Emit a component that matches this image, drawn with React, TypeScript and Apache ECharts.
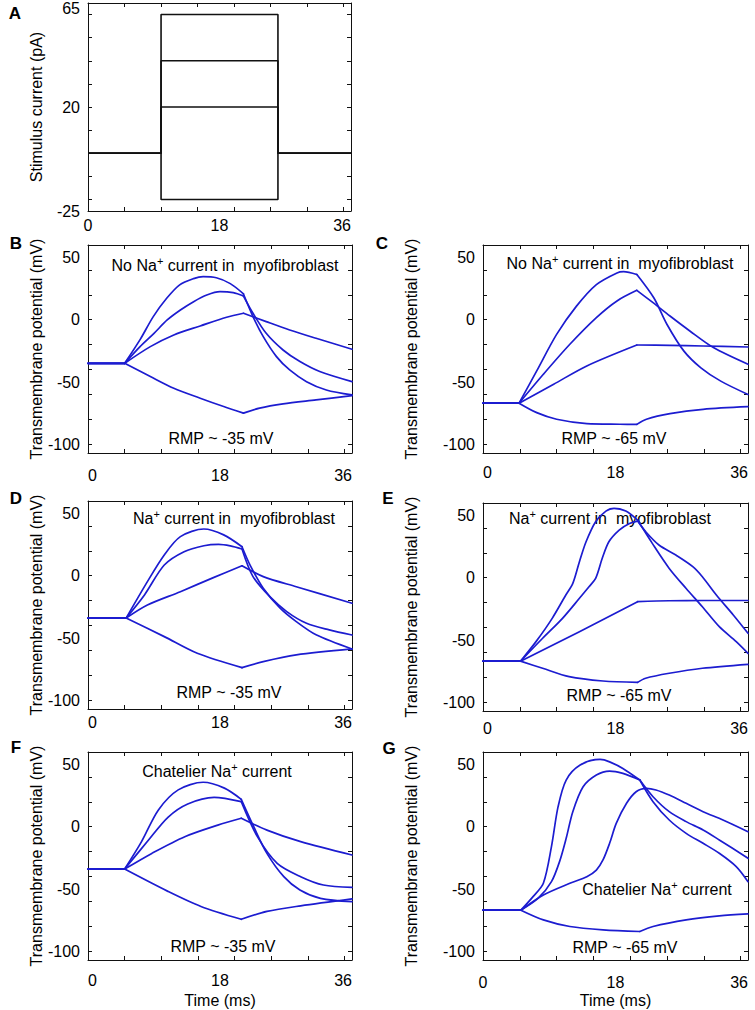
import React, { useEffect, useRef } from 'react';
import * as echarts from 'echarts';

const FONT = '"Liberation Sans", Arial, Helvetica, sans-serif';
const BLUE = '#1c1cd0';

// ---------- Panel A: stimulus protocol ----------
const stimTimeA = [0, 10, 10, 26, 26, 36];
const stimCurrentA = [
  [0, 0, -20, -20, 0, 0],
  [0, 0, 20, 20, 0, 0],
  [0, 0, 40, 40, 0, 0],
  [0, 0, 60, 60, 0, 0],
];
const yLabelsA = [-25, 20, 65];
const yTicksA = [-20, -10, 0, 10, 20, 30, 40, 50, 60];

// ---------- shared axes ----------
const xLabels = [0, 18, 36];
const xTicks = [5, 10, 15, 20, 25, 30, 35];
const yLabelsV = [-100, -50, 0, 50];
const yTicksV = [-100, -80, -60, -40, -20, 0, 20, 40];

// stimulus on / off times (ms) in panels B-G
const stimB = [5, 21.2];
const stimC = [4.9, 20.9];
const stimD = [5.2, 21];
const stimE = [5.1, 21];
const stimF = [5, 20.9];
const stimG = [5.15, 21.3];

// ---------- Panel B: no Na+ current, RMP -35 ----------
const traceB1 = [[0, -35], [5, -35], [7.1, -16], [8.9, 2.5], [10.7, 17], [12.5, 28], [14.4, 33], [15.7, 34.6], [17.5, 33.7], [19.4, 29], [21.2, 20.7], [22.5, 2.5], [23.9, -13.6], [25.7, -29.6], [27.5, -40.3], [29.8, -49.7], [32.5, -56.4], [36, -60.4]];
const traceB2 = [[0, -35], [5, -35], [7.1, -21.6], [9, -10.9], [10.8, -0.2], [12.6, 7.8], [14.4, 14.5], [16.2, 19.8], [18, 22.5], [19.8, 21.7], [21.2, 19], [22.5, 5.2], [24.3, -10.9], [26.6, -24.3], [28.9, -33.6], [31.6, -41.6], [36, -49.7]];
const traceB3 = [[0, -35], [5, -35], [8.5, -21.6], [11.7, -12.2], [15.3, -5], [18.9, 2], [21.2, 5.2], [24.3, -1.5], [27.5, -8.2], [31.1, -14.9], [36, -23.7]];
const traceB4 = [[0, -35], [5, -35], [8.5, -45.6], [11.7, -55], [15.3, -63], [18.5, -69.7], [21.2, -75], [23.4, -71], [26.6, -67.6], [31.1, -64.4], [36, -60.9]];

// ---------- Panel C: no Na+ current, RMP -65 ----------
const traceC1 = [[0, -67], [4.9, -67], [7.3, -41.1], [10, -11.8], [12.7, 10.9], [15.4, 28.2], [18.2, 37.6], [19.1, 38.6], [20.9, 36.3], [23.2, 17.6], [25, -3.8], [27.3, -25.2], [29.6, -38.6], [32.3, -49.3], [36, -60]];
const traceC2 = [[0, -67], [4.9, -67], [8.2, -43.8], [11.8, -19.7], [15.4, 1.7], [18.2, 15.1], [20.9, 23.6], [23.1, 13.7], [25.4, 3], [28.1, -9], [31.3, -22.3], [36, -35.7]];
const traceC3 = [[0, -67], [4.9, -67], [9.6, -51.8], [14.1, -37.1], [20.9, -20.3], [25.4, -20.6], [29.9, -21.1], [36, -21.9]];
const traceC4 = [[0, -67], [4.9, -67], [7.3, -74.6], [10, -79.9], [14.1, -83.4], [18.6, -83.9], [20.9, -84], [22.2, -79.9], [25.4, -75.4], [29.9, -71.9], [36, -69.8]];

// ---------- Panel D: Na+ current, RMP -35 ----------
const traceD1 = [[0, -34], [5.2, -34], [8.1, -4.7], [10.4, 16.7], [12.6, 31.4], [15.8, 37.5], [18.5, 32.8], [21, 23.3], [22.1, 8.6], [23.9, -10], [26.2, -26], [28.4, -36.8], [31.1, -47.4], [36, -58.8]];
const traceD2 = [[0, -34], [5.2, -34], [7.7, -15.4], [10.4, 8.6], [13.1, 19.3], [15.8, 24.1], [17.8, 25.2], [19.4, 24], [21, 21.5], [22.5, -0.7], [24.8, -16.8], [27.1, -28.8], [29.8, -38.2], [32.9, -43.5], [36, -47.6]];
const traceD3 = [[0, -34], [5.2, -34], [8.1, -23.5], [12.6, -12.8], [17.1, -1.5], [21, 8], [23.9, -0.7], [28.4, -8.8], [36, -22.1]];
const traceD4 = [[0, -34], [5.2, -34], [10.4, -48.9], [14.9, -62.3], [21, -73.8], [23.9, -69], [28.4, -63.6], [36, -58.8]];

// ---------- Panel E: Na+ current, RMP -65 ----------
const traceE1 = [[0, -67], [5.1, -67], [7.2, -51.3], [9.4, -32.6], [11.25, -13.9], [12.2, -4.5], [13.1, 12.9], [14, 28.9], [15.3, 45], [16.7, 53.5], [17.8, 55.7], [19.4, 53.5], [21, 46.3], [23, 27.6], [25.3, 7.5], [27.6, -8.6], [29.8, -23.3], [32.1, -39.3], [34.4, -51.3], [36, -60.7]];
const traceE2 = [[0, -67], [5.1, -67], [8.1, -48.6], [10.8, -32.6], [13.1, -16.5], [14.4, -7.2], [15.3, -0.5], [16.2, 15.6], [17.1, 28.9], [18.5, 38.3], [19.9, 43.6], [21, 45.5], [22.1, 37], [23.9, 26.3], [26.2, 18.2], [28.5, 8.9], [29.8, 0.8], [31.7, -13.9], [34, -29.9], [36, -44.6]];
const traceE3 = [[0, -67], [5.1, -67], [13.1, -43.3], [21, -19.2], [25.3, -18.5], [30, -18.3], [36, -18.3]];
const traceE4 = [[0, -67], [5.1, -67], [8.1, -72.7], [11.7, -79.4], [16.3, -82.9], [21, -84], [22.1, -80.7], [25.3, -76.7], [29.8, -72.7], [36, -69.5]];

// ---------- Panel F: Chatelier Na+ current, RMP -35 ----------
const traceF1 = [[0, -34], [5, -34], [7.3, -12], [9.6, 13.5], [12.3, 29.6], [15.7, 35.7], [18.6, 31], [20.9, 22], [22.6, 0], [24.4, -21.4], [26.7, -40.1], [28.9, -50.8], [31.7, -57.5], [36, -60.2]];
const traceF2 = [[0, -34], [5, -34], [8.2, -11.1], [10.9, 7.6], [13.6, 18.3], [17.2, 23.6], [20.9, 20.1], [23.1, -8], [25.8, -29.4], [29, -40.1], [32.1, -46.8], [36, -48.7]];
const traceF3 = [[0, -34], [5, -34], [8.7, -21.4], [13.2, -8], [17.7, 1.3], [20.9, 6.8], [24.4, -2.7], [29, -12], [36, -22.7]];
const traceF4 = [[0, -34], [5, -34], [10.9, -51.9], [15.4, -64], [20.9, -74.3], [24.4, -68], [29, -63.5], [36, -57.9]];

// ---------- Panel G: Chatelier Na+ current, RMP -65 ----------
const traceG1 = [[0, -67], [5.15, -67], [6.8, -56.1], [8.2, -45.4], [9.3, -16], [10.2, 16.1], [11.3, 37.5], [13.2, 49.5], [15.9, 54], [17.2, 52.1], [19, 46.8], [21.3, 37.5], [23.1, 20.1], [25.3, 5.4], [27.6, -5.3], [29.9, -13.3], [32.1, -21.3], [34.4, -32], [36, -44.1]];
const traceG2 = [[0, -67], [5.15, -67], [7.5, -57.4], [9.3, -44.1], [10.4, -28], [11.3, -9.3], [12.2, 12.1], [13.6, 32.1], [15.4, 41.5], [17.2, 44.7], [19, 42.8], [21.3, 37.5], [23.1, 24.1], [25.3, 12.1], [27.6, 4.1], [29.9, -2.6], [32.1, -10.6], [36, -25.3]];
const traceG3 = [[0, -67], [5.15, -67], [8.2, -54.8], [11.8, -45.4], [14.1, -40.1], [15.4, -34.8], [16.3, -26.7], [17.2, -13.3], [18.1, 2.7], [19.5, 18.8], [20.8, 28.1], [22.2, 30.8], [23.5, 29.5], [25.3, 25.4], [27.6, 18.8], [29.9, 12.1], [32.6, 5.4], [36, -4]];
const traceG4 = [[0, -67], [5.15, -67], [8.2, -74.8], [11.8, -80.1], [16.3, -82.8], [21.3, -84.1], [23.1, -80.1], [27.6, -74.8], [32.1, -71.6], [36, -70]];

const titleNoNa = '{n|No Na}{s|+}{n| current in  myofibroblast}';
const titleNa = '{n|Na}{s|+}{n| current in  myofibroblast}';
const titleCh = '{n|Chatelier Na}{s|+}{n| current}';

type Panel = {
  letter: string;
  box: { left: number; top: number; width: number; height: number };
  traces?: number[][][];
  stim?: number[];
  labelMargin: number;
  alignMin: string;
  nameGap: number;
  title?: string;
  titlePos?: [number, number];
  rmp?: string;
  rmpPos?: [number, number];
  letterPos: [number, number];
  xName?: string;
};

const panels: Panel[] = [
  { letter: 'A', box: { left: 88, top: 3, width: 263, height: 208 }, labelMargin: 6, alignMin: 'center', nameGap: 44, letterPos: [15, 13] },
  { letter: 'B', box: { left: 88, top: 245, width: 264, height: 208 }, traces: [traceB1, traceB2, traceB3, traceB4], stim: stimB, labelMargin: 14, alignMin: 'left', nameGap: 44, title: titleNoNa, titlePos: [225, 264], rmp: 'RMP ~ -35 mV', rmpPos: [221, 438], letterPos: [16, 243] },
  { letter: 'C', box: { left: 483, top: 245, width: 265, height: 208 }, traces: [traceC1, traceC2, traceC3, traceC4], stim: stimC, labelMargin: 11, alignMin: 'left', nameGap: 64, title: titleNoNa, titlePos: [620, 262], rmp: 'RMP ~ -65 mV', rmpPos: [614, 438], letterPos: [382, 243] },
  { letter: 'D', box: { left: 88, top: 501, width: 264, height: 208 }, traces: [traceD1, traceD2, traceD3, traceD4], stim: stimD, labelMargin: 5, alignMin: 'left', nameGap: 44, title: titleNa, titlePos: [234, 517], rmp: 'RMP ~ -35 mV', rmpPos: [229, 692], letterPos: [16, 498] },
  { letter: 'E', box: { left: 483, top: 503, width: 265, height: 208 }, traces: [traceE1, traceE2, traceE3, traceE4], stim: stimE, labelMargin: 9, alignMin: 'left', nameGap: 64, title: titleNa, titlePos: [610, 517], rmp: 'RMP ~ -65 mV', rmpPos: [619, 695], letterPos: [388, 498] },
  { letter: 'F', box: { left: 88, top: 752, width: 264, height: 208 }, traces: [traceF1, traceF2, traceF3, traceF4], stim: stimF, labelMargin: 12, alignMin: 'left', nameGap: 44, title: titleCh, titlePos: [217, 770], rmp: 'RMP ~ -35 mV', rmpPos: [223, 946], letterPos: [16, 747], xName: 'Time (ms)' },
  { letter: 'G', box: { left: 483, top: 752, width: 265, height: 208 }, traces: [traceG1, traceG2, traceG3, traceG4], stim: stimG, labelMargin: 14, alignMin: 'center', nameGap: 64, title: titleCh, titlePos: [657, 888], rmp: 'RMP ~ -65 mV', rmpPos: [625, 947], letterPos: [389, 748], xName: 'Time (ms)' },
];

// split a trace at the stimulus on/off samples so that those corners stay sharp
function splitAt(trace: number[][], times: number[]) {
  const parts: number[][][] = [];
  let cur: number[][] = [];
  trace.forEach((pt, k) => {
    cur.push(pt);
    if (k > 0 && k < trace.length - 1 && times.includes(pt[0])) {
      parts.push(cur);
      cur = [pt];
    }
  });
  if (cur.length > 1) parts.push(cur);
  return parts;
}

function buildOption() {
  const grid: any[] = [];
  const xAxis: any[] = [];
  const yAxis: any[] = [];
  const series: any[] = [];
  const graphic: any[] = [];
  const axisLine = { show: true, onZero: false, lineStyle: { color: '#111', width: 1 } };
  const tickStyle = { color: '#111', width: 1 };
  const labelStyle = { color: '#000', fontSize: 16, fontFamily: FONT };

  panels.forEach((p, i) => {
    const isA = p.letter === 'A';
    grid.push({ ...p.box, show: false, containLabel: false, outerBoundsMode: 'none' });
    const yMin = isA ? -25 : -107;
    const yMax = isA ? 65 : 60;
    const yTicks = isA ? yTicksA : yTicksV;
    const yLabels = isA ? yLabelsA : yLabelsV;
    xAxis.push({
      gridIndex: i, type: 'value', min: 0, max: 36, position: 'bottom',
      axisLine, splitLine: { show: false },
      axisTick: { show: true, inside: true, length: 4, customValues: xTicks, lineStyle: tickStyle },
      axisLabel: { ...labelStyle, show: true, customValues: xLabels, margin: p.labelMargin, alignMinLabel: p.alignMin, alignMaxLabel: 'right' },
      name: p.xName || '', nameLocation: 'middle', nameGap: 32,
      nameTextStyle: { ...labelStyle, fontSize: 16 },
    });
    xAxis.push({
      gridIndex: i, type: 'value', min: 0, max: 36, position: 'top',
      axisLine, splitLine: { show: false },
      axisTick: { show: true, inside: true, length: 4, customValues: xTicks, lineStyle: tickStyle },
      axisLabel: { show: false },
    });
    yAxis.push({
      gridIndex: i, type: 'value', min: yMin, max: yMax, position: 'left',
      axisLine, splitLine: { show: false },
      axisTick: { show: true, inside: true, length: 4, customValues: yTicks, lineStyle: tickStyle },
      axisLabel: {
        ...labelStyle, show: true, customValues: yLabels, margin: 8,
        formatter: (v: number) => (isA && v === yMax ? '{top|' + v + '}' : String(v)),
        rich: { top: { ...labelStyle, padding: [11, 0, 0, 0] } },
      },
      name: isA ? 'Stimulus current (pA)' : 'Transmembrane potential (mV)',
      nameLocation: 'middle', nameGap: p.nameGap,
      nameTextStyle: { ...labelStyle, fontSize: 16 },
    });
    yAxis.push({
      gridIndex: i, type: 'value', min: yMin, max: yMax, position: 'right',
      axisLine, splitLine: { show: false },
      axisTick: { show: true, inside: true, length: 4, customValues: yTicks, lineStyle: tickStyle },
      axisLabel: { show: false },
    });

    if (isA) {
      stimCurrentA.forEach((levels) => {
        series.push({
          type: 'line', xAxisIndex: 2 * i, yAxisIndex: 2 * i,
          data: stimTimeA.map((t, k) => [t, levels[k]]),
          showSymbol: false, symbol: 'none', silent: true,
          lineStyle: { color: '#111', width: 1.6 },
        });
      });
    } else {
      (p.traces || []).forEach((tr) => {
        splitAt(tr, p.stim || []).forEach((seg) => {
          series.push({
            type: 'line', xAxisIndex: 2 * i, yAxisIndex: 2 * i,
            data: seg, showSymbol: false, symbol: 'none', silent: true,
            smooth: 0.3,
            lineStyle: { color: BLUE, width: 1.7, cap: 'round', join: 'round' },
          });
        });
      });
    }

    graphic.push({
      type: 'text', x: p.letterPos[0], y: p.letterPos[1],
      style: { text: p.letter, fontSize: 17, fontWeight: 'bold', fontFamily: FONT, fill: '#000', align: 'center', verticalAlign: 'middle' },
    });
    if (p.title && p.titlePos) {
      graphic.push({
        type: 'text', x: p.titlePos[0], y: p.titlePos[1],
        style: {
          text: p.title, align: 'center', verticalAlign: 'middle', fill: '#000',
          rich: {
            n: { fontSize: 16, fontFamily: FONT, fill: '#000', lineHeight: 18, verticalAlign: 'bottom' },
            s: { fontSize: 11, fontFamily: FONT, fill: '#000', lineHeight: 18, verticalAlign: 'top' },
          },
        },
      });
    }
    if (p.rmp && p.rmpPos) {
      graphic.push({
        type: 'text', x: p.rmpPos[0], y: p.rmpPos[1],
        style: { text: p.rmp, fontSize: 16, fontFamily: FONT, fill: '#000', align: 'center', verticalAlign: 'middle' },
      });
    }
  });

  return {
    animation: false,
    backgroundColor: '#fff',
    grid, xAxis, yAxis, series, graphic,
  };
}

export default function App() {
  const ref = useRef<HTMLDivElement>(null);
  useEffect(() => {
    if (!ref.current) return;
    const chart = echarts.init(ref.current, undefined, { renderer: 'svg' });
    chart.setOption(buildOption() as any);
    return () => chart.dispose();
  }, []);
  return (
    <div
      ref={ref}
      style={{ position: 'absolute', left: 0, top: 0, width: 755, height: 1010, background: '#fff' }}
    />
  );
}
